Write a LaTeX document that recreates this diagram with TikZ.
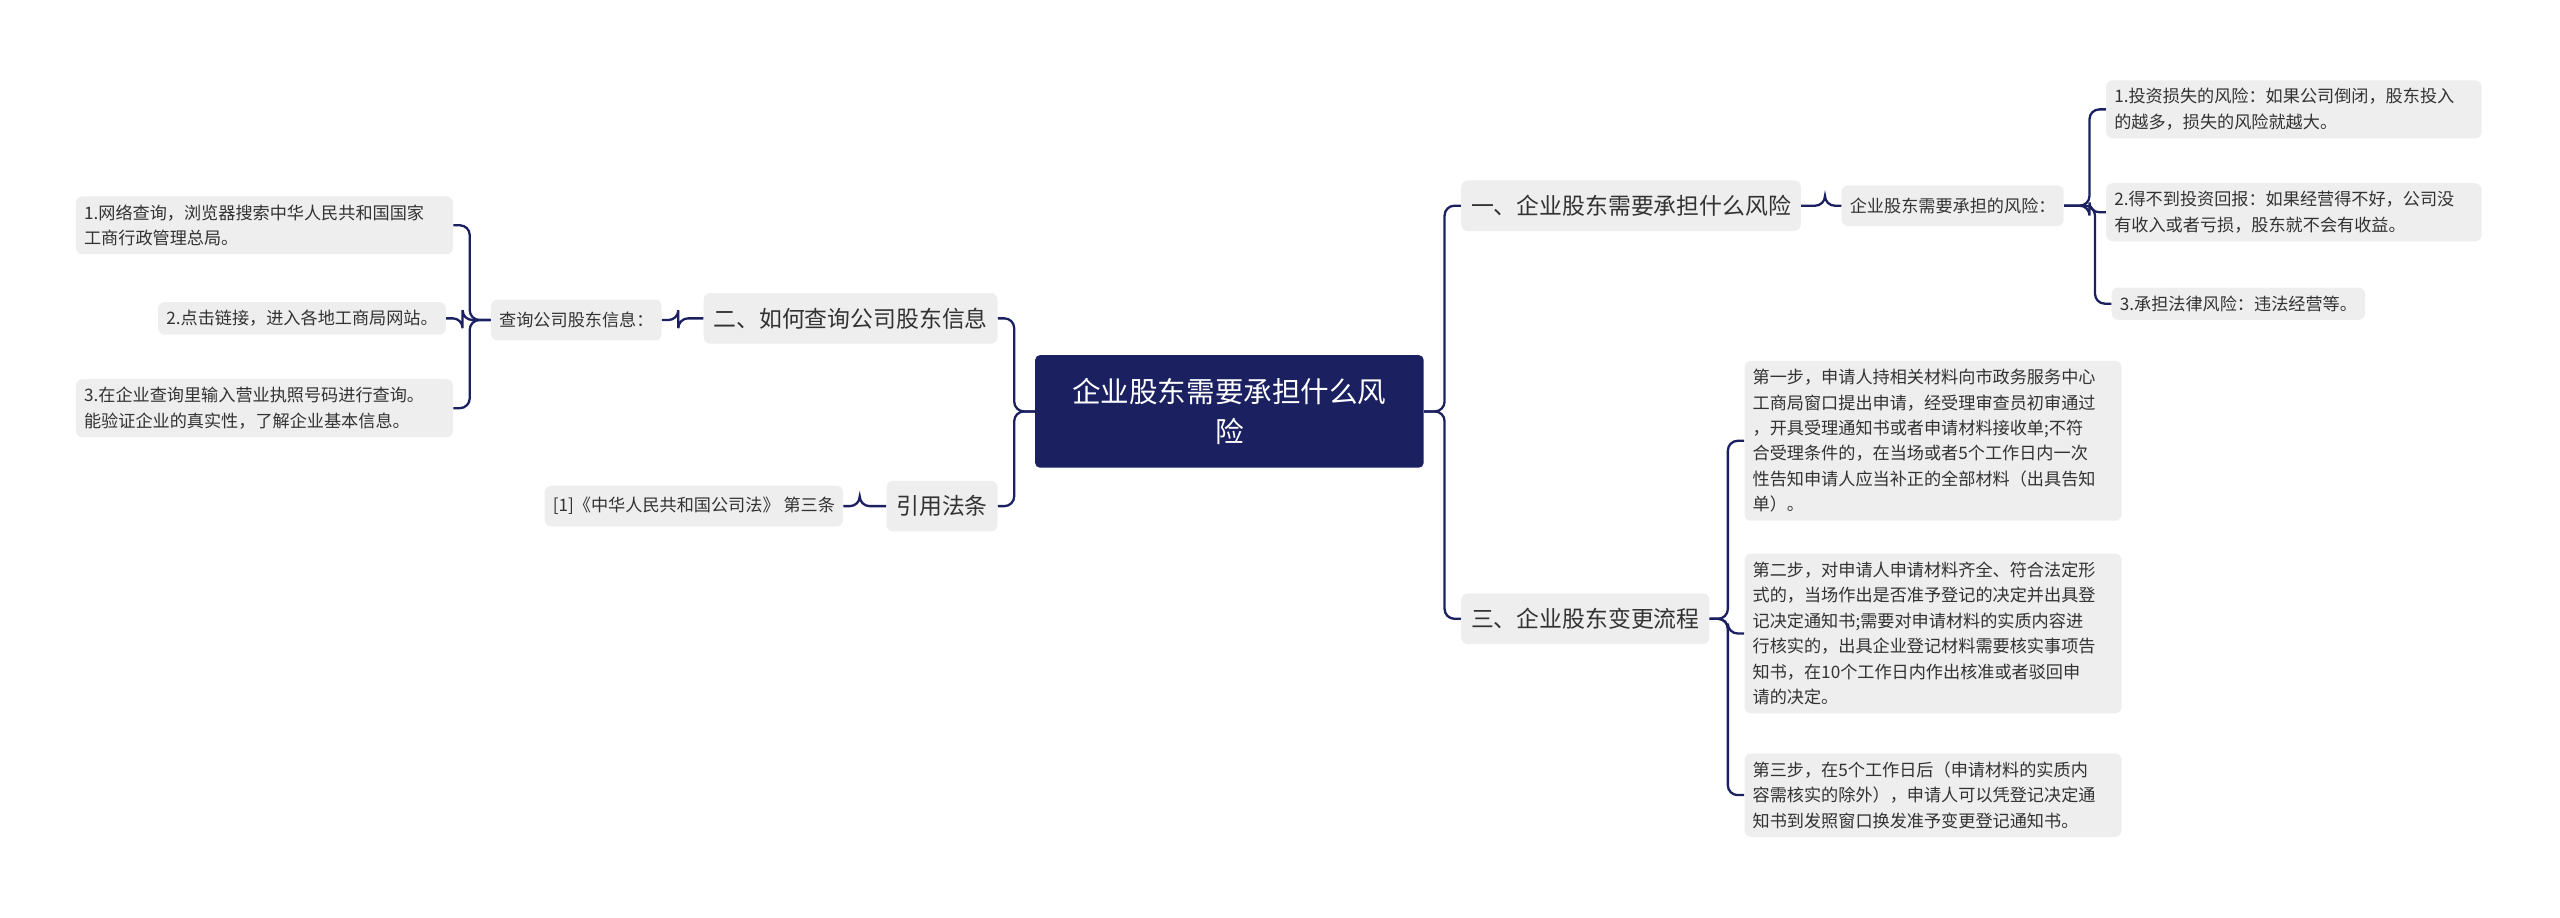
\documentclass[tikz,border=0pt]{standalone}
\usepackage{fontspec}
\setmainfont{Noto Sans CJK SC}
\usetikzlibrary{positioning}
\definecolor{rootNavy}{RGB}{26, 32, 96}
\definecolor{boxGray}{RGB}{238, 238, 238}
\definecolor{textGray}{RGB}{50, 50, 50}
\tikzset{
    rootbox/.style={fill=rootNavy, text=white, rounded corners=3pt, align=center,
        minimum width=238pt, minimum height=69pt, font=\fontsize{17.5}{24}\selectfont},
    mainbox/.style={fill=boxGray, text=textGray, rounded corners=4pt, inner sep=6pt,
        minimum height=31pt, font=\fontsize{14}{18}\selectfont},
    subbox/.style={fill=boxGray, text=textGray, rounded corners=4pt, inner sep=5pt,
        minimum height=25pt, font=\fontsize{10.5}{15}\selectfont},
    leafbox/.style={fill=boxGray, text=textGray, rounded corners=4pt, inner sep=5pt,
        align=left, font=\fontsize{10.5}{15.6}\selectfont},
    link/.style={rootNavy, line width=1.4pt, rounded corners=6pt}
}
\begin{document}
\begin{tikzpicture}[x=1pt, y=1pt]
    \useasboundingbox (0,0) rectangle (1568,562);
    % root
    \node[rootbox] (root) at (753,310) {企业股东需要承担什么风\\险};
    % right side
    \node[mainbox] (risk) at (999,436) {一、企业股东需要承担什么风险};
    \node[subbox] (riskSub) at (1196,436) {企业股东需要承担的风险：};
    \node[leafbox, text width=220pt] (risk1) at (1405,495) {1.投资损失的风险：如果公司倒闭，股东投入\\的越多，损失的风险就越大。};
    \node[leafbox, text width=220pt] (risk2) at (1405,432) {2.得不到投资回报：如果经营得不好，公司没\\有收入或者亏损，股东就不会有收益。};
    \node[leafbox] (risk3) at (1371,376) {3.承担法律风险：违法经营等。};
    \node[mainbox] (flow) at (971,183) {三、企业股东变更流程};
    \node[leafbox, text width=221pt] (step1) at (1184,292) {第一步，申请人持相关材料向市政务服务中心\\工商局窗口提出申请，经受理审查员初审通过\\，开具受理通知书或者申请材料接收单;不符\\合受理条件的，在当场或者5个工作日内一次\\性告知申请人应当补正的全部材料（出具告知\\单）。};
    \node[leafbox, text width=221pt] (step2) at (1184,174) {第二步，对申请人申请材料齐全、符合法定形\\式的，当场作出是否准予登记的决定并出具登\\记决定通知书;需要对申请材料的实质内容进\\行核实的，出具企业登记材料需要核实事项告\\知书，在10个工作日内作出核准或者驳回申\\请的决定。};
    \node[leafbox, text width=221pt] (step3) at (1184,75) {第三步，在5个工作日后（申请材料的实质内\\容需核实的除外），申请人可以凭登记决定通\\知书到发照窗口换发准予变更登记通知书。};
    % left side
    \node[mainbox] (query) at (521,367) {二、如何查询公司股东信息};
    \node[subbox] (querySub) at (353,366) {查询公司股东信息：};
    \node[leafbox, text width=221pt] (query1) at (162,424) {1.网络查询，浏览器搜索中华人民共和国国家\\工商行政管理总局。};
    \node[leafbox] (query2) at (185,367) {2.点击链接，进入各地工商局网站。};
    \node[leafbox, text width=221pt] (query3) at (162,312) {3.在企业查询里输入营业执照号码进行查询。\\能验证企业的真实性，了解企业基本信息。};
    \node[mainbox] (law) at (577,252) {引用法条};
    \node[subbox] (law1) at (425,252) {[1]《中华人民共和国公司法》 第三条};
    % connectors right
    \foreach \a/\b in {root/risk, root/flow, risk/riskSub, riskSub/risk1, riskSub/risk2, riskSub/risk3, flow/step1, flow/step2, flow/step3}
        \draw[link] (\a.east) -- ([xshift=-10pt]\b.west |- \a.east) |- (\b.west);
    % connectors left
    \foreach \a/\b in {root/query, root/law, query/querySub, querySub/query1, querySub/query2, querySub/query3, law/law1}
        \draw[link] (\a.west) -- ([xshift=10pt]\b.east |- \a.west) |- (\b.east);
\end{tikzpicture}
\end{document}
